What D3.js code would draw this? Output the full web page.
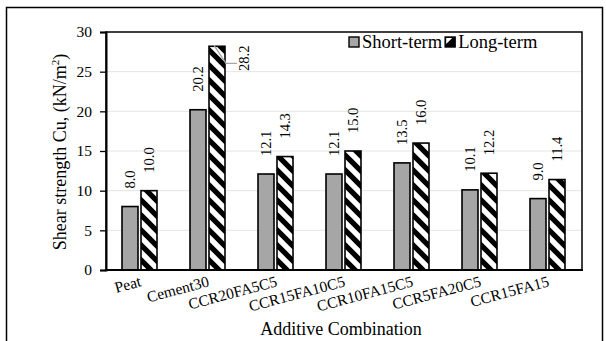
<!DOCTYPE html>
<html>
<head>
<meta charset="utf-8">
<script src="https://cdn.jsdelivr.net/npm/d3@7/dist/d3.min.js"></script>
<style>
  html, body { margin: 0; padding: 0; background: #fff; }
  svg { display: block; }
</style>
</head>
<body>
<svg id="chart" width="606" height="341"></svg>
<script>
// Undrained shear strength by additive combination
const categories = ["Peat", "Cement30", "CCR20FA5C5", "CCR15FA10C5", "CCR10FA15C5", "CCR5FA20C5", "CCR15FA15"];
const seriesNames = ["Short-term", "Long-term"];
const shortTerm = [8.0, 20.2, 12.1, 12.1, 13.5, 10.1, 9.0];
const longTerm = [10.0, 28.2, 14.3, 15.0, 16.0, 12.2, 11.4];
const yTicks = [0, 5, 10, 15, 20, 25, 30];

const FONT = "'Liberation Serif'";

const svg = d3.select("#chart");
const margin = { left: 106, right: 24, top: 32, bottom: 71 };
const W = 606, H = 341;
const innerRight = W - margin.right;
const innerBottom = H - margin.bottom;

// outer frame
svg.append("rect")
  .attr("x", 6.5).attr("y", 7.5)
  .attr("width", 596).attr("height", 345)
  .attr("fill", "#fff").attr("stroke", "#000").attr("stroke-width", 1.5);

// diagonal stripe fill for the long-term series
const defs = svg.append("defs");
const pat = defs.append("pattern")
  .attr("id", "stripes")
  .attr("patternUnits", "userSpaceOnUse")
  .attr("width", 15).attr("height", 15);
pat.append("rect").attr("width", 15).attr("height", 15).attr("fill", "#fff");
pat.append("path")
  .attr("d", "M-3,-3 L18,18 M-3,12 L3,18 M12,-3 L18,3")
  .attr("stroke", "#000").attr("stroke-width", 5.2);

const x = d3.scaleBand().domain(categories).range([margin.left, innerRight]);
const x1 = d3.scaleBand().domain(seriesNames).range([16, 51]).paddingInner(0.158);
const y = d3.scaleLinear().domain([0, 30]).range([innerBottom, margin.top]);

// gridlines
svg.append("g").selectAll("line")
  .data(yTicks.filter(t => t > 0 && t < 30))
  .join("line")
  .attr("x1", margin.left).attr("x2", innerRight)
  .attr("y1", d => y(d)).attr("y2", d => y(d))
  .attr("stroke", "#e4e4e4").attr("stroke-width", 1);

// bars
const rows = categories.map((c, i) => ({ cat: c, values: [
  { name: "Short-term", v: shortTerm[i] },
  { name: "Long-term", v: longTerm[i] }
]}));

const groups = svg.append("g").selectAll("g")
  .data(rows).join("g")
  .attr("transform", d => `translate(${x(d.cat)},0)`);

groups.selectAll("rect")
  .data(d => d.values).join("rect")
  .attr("x", d => x1(d.name))
  .attr("width", x1.bandwidth())
  .attr("y", d => y(d.v))
  .attr("height", d => y(0) - y(d.v))
  .attr("fill", d => d.name === "Short-term" ? "#a6a6a6" : "url(#stripes)")
  .attr("stroke", "#000").attr("stroke-width", 1.6);

// value labels (rotated); the tallest bar's label sits beside it with a leader
groups.each(function (row) {
  const g = d3.select(this);
  row.values.forEach(d => {
    const cx = x1(d.name) + x1.bandwidth() / 2;
    const callout = row.cat === "Cement30" && d.name === "Long-term";
    if (callout) {
      const top = y(d.v);
      const bx = x1(d.name) + 5;
      g.append("path")
        .attr("d", `M${bx},${top - 1} L${bx + 12},${top + 17} L${bx + 23},${top + 17}`)
        .attr("fill", "none").attr("stroke", "#a6a6a6").attr("stroke-width", 1.3);
      g.append("text")
        .attr("transform", `translate(${bx + 35},${top + 12}) rotate(-90)`)
        .attr("text-anchor", "middle")
        .style("font-family", FONT)
        .attr("font-size", 14.5)
        .text(d.v.toFixed(1));
    } else {
      g.append("text")
        .attr("transform", `translate(${cx + 5},${y(d.v) - 18}) rotate(-90)`)
        .attr("text-anchor", "start")
        .style("font-family", FONT)
        .attr("font-size", 14.5)
        .text(d.v.toFixed(1));
    }
  });
});

// plot border
svg.append("rect")
  .attr("x", margin.left).attr("y", margin.top)
  .attr("width", innerRight - margin.left).attr("height", innerBottom - margin.top)
  .attr("fill", "none").attr("stroke", "#000").attr("stroke-width", 1.5);

// y axis
const yAxis = svg.append("g")
  .attr("transform", `translate(${margin.left},0)`)
  .call(d3.axisLeft(y).tickValues(yTicks).tickSize(6).tickPadding(8).tickFormat(d3.format("d")));
yAxis.select(".domain").attr("stroke-width", 2);
yAxis.selectAll(".tick line").attr("stroke-width", 1.3);
yAxis.selectAll("text").attr("font-size", 15.5).style("font-family", FONT).attr("fill", "#000");

// x axis line
svg.append("line")
  .attr("x1", margin.left - 1).attr("x2", innerRight + 1)
  .attr("y1", y(0)).attr("y2", y(0))
  .attr("stroke", "#000").attr("stroke-width", 2);

// category labels, slanted
svg.append("g").selectAll("text")
  .data(categories).join("text")
  .attr("transform", d => `translate(${x(d) + x.bandwidth() / 2 + 2},${y(0) + 16}) rotate(-15)`)
  .attr("text-anchor", "end")
  .style("font-family", FONT)
  .attr("font-size", 15.5)
  .text(d => d);

// axis titles
svg.append("text")
  .attr("x", (margin.left + innerRight) / 2 - 3)
  .attr("y", 335)
  .attr("text-anchor", "middle")
  .style("font-family", FONT)
  .attr("font-size", 18)
  .text("Additive Combination");

const yt = svg.append("text")
  .attr("transform", `translate(66,${(margin.top + innerBottom) / 2 + 1}) rotate(-90)`)
  .attr("text-anchor", "middle")
  .style("font-family", FONT)
  .attr("font-size", 18);
yt.append("tspan").text("Shear strength Cu, (kN/m");
yt.append("tspan").attr("font-size", 11).attr("dy", -7).text("2");
yt.append("tspan").attr("dy", 7).text(")");

// legend
const legend = svg.append("g").attr("transform", `translate(349,37)`);
let lx = 0;
seriesNames.forEach((name, i) => {
  legend.append("rect")
    .attr("x", lx).attr("y", 0).attr("width", 10).attr("height", 10)
    .attr("fill", i === 0 ? "#a6a6a6" : "#000")
    .attr("stroke", "#000").attr("stroke-width", 1.4);
  if (i === 1) {
    legend.append("path")
      .attr("d", `M${lx + 1},1 L${lx + 7},1 L${lx + 1},7 Z`)
      .attr("fill", "#fff");
  }
  const t = legend.append("text")
    .attr("x", lx + 13).attr("y", 11)
    .style("font-family", FONT)
    .attr("font-size", 18.5)
    .text(name);
  lx += 13 + t.node().getComputedTextLength() + 3;
});
</script>
</body>
</html>
